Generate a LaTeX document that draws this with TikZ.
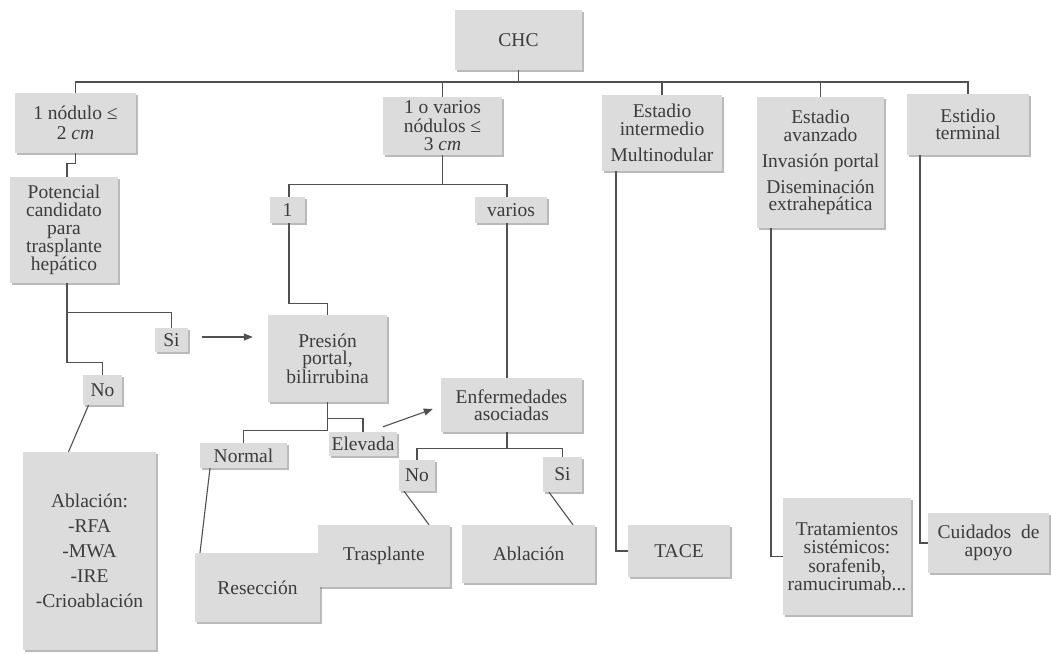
\documentclass[tikz,border=0pt]{standalone}
\usepackage{fontspec}
\setmainfont{Liberation Serif}
\usetikzlibrary{shadows,arrows.meta}
\definecolor{boxfill}{HTML}{DCDCDC}
\definecolor{txt}{HTML}{3C3C3C}
\definecolor{ln}{HTML}{505050}
\newcommand\mybox[6][]{\node[box,#1,minimum width={(#4-#2)*1pt},minimum height={(#5-#3)*1pt}] (#6) at ({(#2+#4)/2},{(#3+#5)/2})}
\begin{document}
\begin{tikzpicture}[x=1pt,y=-1pt,
  box/.style={fill=boxfill, draw=none, inner sep=1pt, align=center, text=txt,
     font=\fontsize{19.5}{17.5}\selectfont,
     drop shadow={shadow xshift=1.5pt, shadow yshift=-2pt, fill=black!45, opacity=0.6}},
  conn/.style={draw=ln, line width=1.1pt},
  arr/.style={conn, -{Triangle[length=9pt,width=7pt]}}]
\useasboundingbox[fill=white] (0,0) rectangle (1051,653);
% boxes
\mybox{455}{10}{582}{70}{chc} {CHC};
\mybox{15}{93}{136}{153}{n1} {1 nódulo ≤\\[2pt]2 \textit{cm}};
\mybox{383}{97}{502}{155}{nv} {1 o varios\\[1pt]nódulos ≤\\[1pt]3 \textit{cm}};
\mybox{602}{95}{722}{171}{ei} {Estadio\\intermedio\\[9pt]Multinodular};
\mybox{757}{97}{884}{228}{ea} {Estadio\\avanzado\\[9pt]Invasión portal\\[7pt]Diseminación\\extrahepática};
\mybox{907}{94}{1029}{155}{et} {Estidio\\terminal};
\mybox[font=\fontsize{19.5}{18}\selectfont]{10}{177}{118}{283}{pc} {Potencial\\candidato\\para\\trasplante\\hepático};
\mybox{270}{197}{305}{223}{one} {1};
\mybox{475}{197}{547}{223}{var} {varios};
\mybox{155}{328}{188}{352}{si1} {Si};
\mybox{268}{315}{387}{402}{pp} {Presión\\portal,\\bilirrubina};
\mybox{83}{375}{122}{405}{no1} {No};
\mybox[font=\fontsize{19.5}{25}\selectfont]{23}{452}{156}{650}{abl1} {Ablación:\\-RFA\\-MWA\\-IRE\\-Crioablación};
\mybox{200}{443}{287}{468}{normal} {Normal};
\mybox{329}{432}{397}{456}{elev} {Elevada};
\mybox{441}{378}{582}{432}{enf} {Enfermedades\\asociadas};
\mybox{399}{460}{435}{491}{no2} {No};
\mybox{543}{457}{582}{492}{si2} {Si};
\mybox{195}{553}{320}{622}{res} {Resección};
\mybox{318}{525}{450}{587}{tras} {Trasplante};
\mybox{462}{525}{595}{583}{abl2} {Ablación};
\mybox{628}{525}{730}{577}{tace} {TACE};
\mybox[font=\fontsize{19.5}{18.5}\selectfont]{783}{498}{911}{615}{trat} {Tratamientos\\sistémicos:\\sorafenib,\\ramucirumab...};
\mybox{928}{513}{1049}{573}{cuid} {Cuidados\ \ de\\apoyo};
% connectors
\coordinate (bus) at (0,82);
\draw[conn] (chc.south) -- (chc.south |- bus);
\draw[conn] (n1.north) -- (n1.north |- bus) -| (et.north);
\draw[conn] (nv.north) -- (nv.north |- bus);
\draw[conn] (ei.north) -- (ei.north |- bus);
\draw[conn] (ea.north) -- (ea.north |- bus);
\draw[conn] (n1.south) -- ++(0,10) -| ([xshift=3pt]pc.north);
\draw[conn] ([xshift=3pt]pc.south) -- ++(0,79) -| (no1.north);
\draw[conn] ([xshift=3pt]pc.south) -- ++(0,29) -| (si1.north);
\draw[arr, shorten <=14pt, shorten >=15pt] ([yshift=3pt]si1.east) -- ([yshift=3pt]si1.east -| pp.west);
\draw[conn] ([xshift=-14pt]no1.south) -- ([xshift=-21pt]abl1.north);
\draw[conn] (nv.south) -- ++(0,29) coordinate (b2);
\draw[conn] ([xshift=1.5pt]one.north) |- (b2) -| ([xshift=-4pt]var.north);
\draw[conn] ([xshift=1.5pt]one.south) -- ++(0,80) -| (pp.north);
\draw[conn] ([xshift=-4pt]var.south) -- ([xshift=-4pt]var.south |- enf.north);
\draw[conn] (pp.south) -- ++(0,28) -| (normal.north);
\draw[conn] ([yshift=-16pt]pp.south) -| (elev.north);
\draw[arr] ([xshift=20pt,yshift=5pt]elev.north) -- ([xshift=-8pt,yshift=-4pt]enf.west);
\draw[conn] ([xshift=-4.5pt]enf.south) -- ++(0,16) coordinate (b3);
\draw[conn] (no2.north) |- (b3) -| (si2.north);
\draw[conn] ([xshift=-13pt]no2.south) -- ([xshift=45pt]tras.north);
\draw[conn] ([xshift=-13.5pt]si2.south) -- ([xshift=44.5pt]abl2.north);
\draw[conn] ([xshift=-33.5pt]normal.south) -- ([xshift=-57.5pt]res.north);
\draw[conn] ([xshift=-46pt]ei.south) |- (tace.west);
\draw[conn] ([xshift=-49.5pt]ea.south) |- (trat.west);
\draw[conn] ([xshift=-48pt]et.south) |- (cuid.west);
\end{tikzpicture}
\end{document}
